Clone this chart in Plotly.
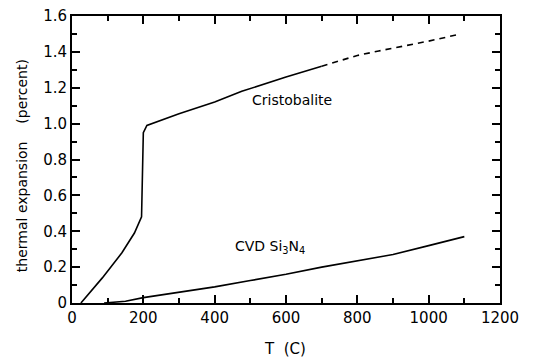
import plotly.graph_objects as go

# Cristobalite (solid part and dashed extrapolation)
cris_x = [25, 85, 140, 175, 195, 198, 200, 210, 300, 400, 476, 600, 700]
cris_y = [0.0, 0.14, 0.28, 0.39, 0.48, 0.70, 0.95, 0.99, 1.055, 1.12, 1.18, 1.26, 1.32]
cris_dash_x = [700, 800, 860, 1000, 1090]
cris_dash_y = [1.32, 1.38, 1.405, 1.46, 1.50]

# CVD Si3N4
cvd_x = [90, 150, 200, 300, 400, 500, 600, 700, 800, 900, 1000, 1100]
cvd_y = [0.0, 0.01, 0.03, 0.06, 0.09, 0.125, 0.16, 0.2, 0.235, 0.27, 0.32, 0.37]

x_ticks = [0, 200, 400, 600, 800, 1000, 1200]
x_ticklabels = ["0", "200", "400", "600", "800", "1000", "1200"]
y_ticks = [0, 0.2, 0.4, 0.6, 0.8, 1.0, 1.2, 1.4, 1.6]
y_ticklabels = ["0", "0.2", "0.4", "0.6", "0.8", "1.0", "1.2", "1.4", "1.6"]

FONT = "DejaVu Sans"

fig = go.Figure()
fig.add_trace(go.Scatter(x=cris_x, y=cris_y, mode="lines",
                         line=dict(color="black", width=1.6), showlegend=False))
fig.add_trace(go.Scatter(x=cris_dash_x, y=cris_dash_y, mode="lines",
                         line=dict(color="black", width=1.6, dash="6px,5px"), showlegend=False))
fig.add_trace(go.Scatter(x=cvd_x, y=cvd_y, mode="lines",
                         line=dict(color="black", width=1.6), showlegend=False))

axis_common = dict(showgrid=False, zeroline=False, showline=True, linecolor="black",
                   linewidth=2, mirror="ticks", ticks="inside", ticklen=8, tickwidth=1.5,
                   tickcolor="black", automargin=False, ticklabeloverflow="allow",
                   tickfont=dict(family=FONT, size=15, color="black"))

fig.update_xaxes(range=[0, 1200], tickvals=x_ticks, ticktext=x_ticklabels,
                 minor=dict(ticks="inside", dtick=100, ticklen=5, tickcolor="black", tickwidth=1.5),
                 **axis_common)
fig.update_yaxes(range=[0, 1.6], tickvals=y_ticks, ticktext=y_ticklabels,
                 minor=dict(ticks="inside", dtick=0.1, ticklen=5, tickcolor="black", tickwidth=1.5),
                 **axis_common)

fig.add_annotation(x=616, y=1.13, xref="x", yref="y", text="Cristobalite", showarrow=False,
                   xanchor="center", yanchor="middle",
                   font=dict(family=FONT, size=14, color="black"))
fig.add_annotation(x=450, y=0.31, xref="x", yref="y", text="CVD Si<sub>3</sub>N<sub>4</sub>",
                   showarrow=False, xanchor="left", yanchor="middle",
                   font=dict(family=FONT, size=14, color="black"))
fig.add_annotation(x=-0.117, y=0.48, xref="paper", yref="paper",
                   text="thermal expansion    (percent)", showarrow=False, textangle=-90,
                   xanchor="center", yanchor="middle",
                   font=dict(family=FONT, size=14, color="black"))
fig.add_annotation(x=0.498, y=-0.16, xref="paper", yref="paper", text="T  (C)",
                   showarrow=False, xanchor="center", yanchor="middle",
                   font=dict(family=FONT, size=15, color="black"))

# page body has an 8px default margin, so shift the figure up/left by 8px
fig.update_layout(width=529, height=352, margin=dict(l=64, r=37, t=8, b=57),
                  plot_bgcolor="white", paper_bgcolor="white")

fig.write_html("out.html")
